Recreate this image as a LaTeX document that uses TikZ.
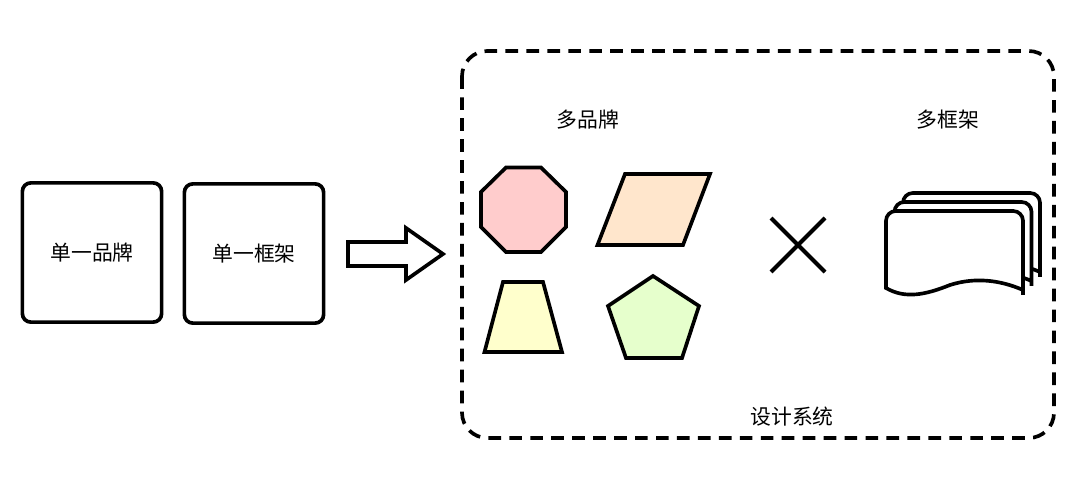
\documentclass[tikz,border=0pt]{standalone}
\usepackage{fontspec}
\usepackage{xcolor}
\setmainfont{Noto Sans CJK SC}
\usetikzlibrary{positioning, calc}

\definecolor{octfill}{HTML}{FFCCCC}
\definecolor{parafill}{HTML}{FFE6CC}
\definecolor{trapfill}{HTML}{FFFFCC}
\definecolor{pentfill}{HTML}{E6FFCC}

\tikzset{
    outline/.style={line width=2.6pt, line join=miter, draw=black},
    singlebox/.style={outline, rounded corners=6pt, minimum width=3.48cm, minimum height=3.48cm, inner sep=0pt, font=\fontsize{14.8pt}{16pt}\selectfont},
    label/.style={font=\fontsize{14.8pt}{16pt}\selectfont, inner sep=0pt},
}

\begin{document}
\begin{tikzpicture}[x=0.025cm, y=-0.025cm]
    \useasboundingbox[fill=white] (0,0) rectangle (1080,484);

    \node[singlebox] (Brand) at (92,252.5) {单一品牌};
    \node[singlebox] (Frame) at (254,253.5) {单一框架};

    \draw[outline] (348,242) -- (406,242) -- (406,228) -- (443,254) -- (406,280) -- (406,266) -- (348,266) -- cycle;

    \draw[outline, rounded corners=18pt, dash pattern=on 9pt off 5.9pt] (462,51) rectangle (1054,438);

    \node[label] (MultiBrand) at (588,120) {多品牌};
    \node[label] (MultiFrame) at (948,120) {多框架};
    \node[label] (System) at (792,417) {设计系统};

    \draw[outline, fill=octfill] (506,167.5) -- (541,167.5) -- (566,192) -- (566,227) -- (541,252) -- (506,252) -- (481,227) -- (481,192) -- cycle;
    \draw[outline, fill=parafill] (625,174) -- (710,174) -- (683,245) -- (597.5,245) -- cycle;
    \draw[outline, fill=trapfill] (503,282) -- (543,282) -- (562,352) -- (484.5,352) -- cycle;
    \draw[outline, fill=pentfill] (653,276) -- (699,306) -- (682,358) -- (626,358) -- (608,306) -- cycle;

    \draw[outline, line width=3pt] (771,218) -- (825,272);
    \draw[outline, line width=3pt] (825,218) -- (771,272);

    % stacked sheets, back one first
    \foreach \dx/\dy in {17/-18, 8.5/-9, 0/0} {
        \begin{scope}[shift={(\dx,\dy)}]
            \draw[outline, fill=white, rounded corners=7pt] (886,288) -- (886,211) -- (1023,211) -- (1023,285) [sharp corners] -- (1023,290) .. controls (1000,280) and (975,277) .. (950,285) .. controls (925,295) and (905,299) .. (886,288) -- cycle;
        \end{scope}
    }
\end{tikzpicture}
\end{document}
